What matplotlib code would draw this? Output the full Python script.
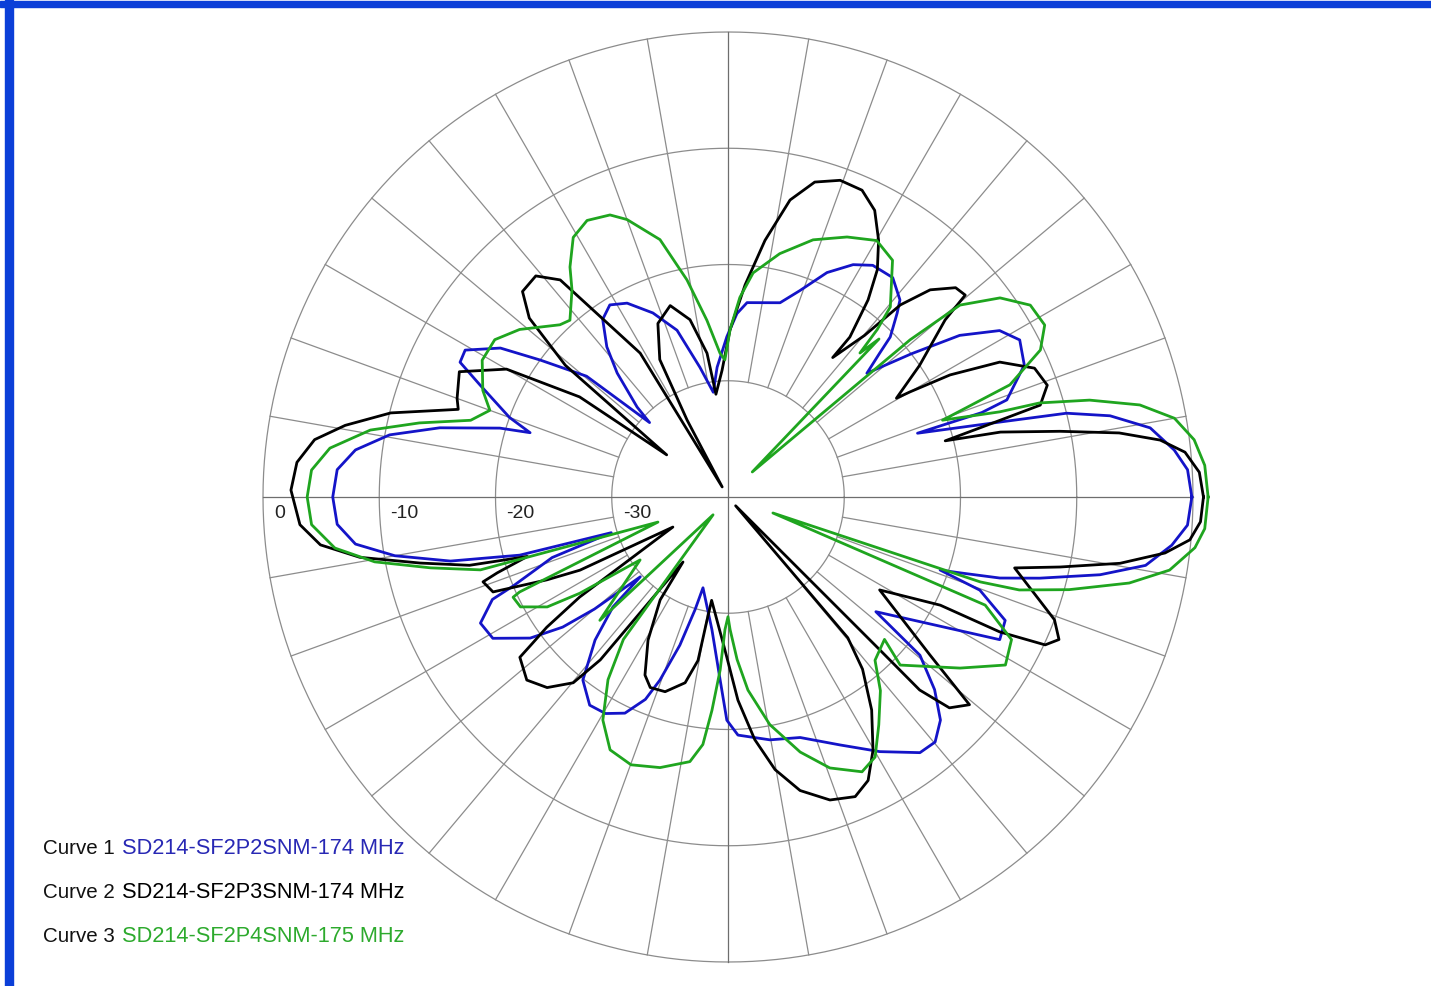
import numpy as np
import matplotlib
matplotlib.use("Agg")
import matplotlib.pyplot as plt
from matplotlib.patches import Rectangle

# Antenna patterns: angle in degrees (counterclockwise from east), level in dB
blue_ang = [0, 3.4, 6, 9.3, 12, 13.9, 15.4, 18.6, 18.4, 19.2, 24, 28.3, 31.5, 34.9, 38, 41.7,
            43.5, 44.6, 47.4, 48.9, 53.1, 58, 61.7, 66.2, 70.8, 75, 84.4, 87.2, 90.4, 94.8, 98,
            102.2, 107, 112.2, 117.5, 121.6, 125.2, 128.9, 131.8, 135.3, 136.5, 139.5, 143.9,
            146.8, 150.8, 153.3, 155.7, 160, 162, 163.2, 166.5, 169.6, 172.8, 176, 180, 184,
            187.2, 190, 193, 195.6, 197, 199, 202.5, 203.5, 207, 211, 215.5, 218.2, 220, 222.3,
            223.7, 227.1, 231.6, 236.4, 240.5, 244.5, 247.8, 249.6, 252, 253.7, 254.6, 263.1,
            267.5, 269.7, 272.4, 279.8, 286.7, 294.3, 300.8, 306.9, 310.2, 313.6, 317, 320.5,
            322.2, 332.3, 336, 339.7, 341, 341.9, 343.4, 345.4, 348.2, 350.7, 353.8, 356.5, 360]
blue_db = [-0.1, -0.4, -1.4, -3.2, -6.4, -10.0, -15.7, -22.8, -17.0, -14.6, -12.1, -11.5, -12.6,
           -15.7, -20, -24, -22, -20.4, -18.5, -17.5, -16.4, -16.5, -17.3, -18.9, -21.2, -22.7,
           -23.2, -24.2, -26.2, -28.8, -30.9, -28.6, -25, -22.9, -21.2, -20.6, -21.3, -23.4,
           -25.7, -29, -30.7, -24, -20, -16.6, -14.1, -14.2, -16.6, -20, -22.1, -19.5, -14.5,
           -10.4, -7.7, -6.3, -6, -6.3, -7.7, -10.9, -15.5, -21.4, -29.5, -24, -20, -17.9, -16.1,
           -16.4, -19.1, -21.9, -25, -29.8, -26.3, -23.2, -19.9, -18.5, -18.6, -19.4, -21.2,
           -23.2, -26.6, -29.9, -31.9, -28.5, -24.3, -20.8, -19.5, -18.8, -18.4, -16.6, -14.5,
           -12.5, -12.4, -13.5, -15.7, -18.6, -23.9, -13.6, -13.9, -16.9, -20.7, -19, -15.6,
           -12.3, -7.3, -3.6, -1.6, -0.4, -0.1]

black_ang = [0, 3, 5.6, 7.5, 9.3, 11.2, 13.4, 14.5, 15.4, 16.4, 19.3, 22.8, 26.4, 28.8, 30, 30.4,
             34.5, 39.2, 40.4, 42.6, 45.7, 48.1, 49.8, 53.1, 52.7, 54.6, 56.7, 59.6, 62.9, 66.4,
             70.5, 74.6, 78.2, 81.8, 85.4, 89.3, 92.7, 96.7, 98.3, 102.1, 106.8, 112, 116.4, 118,
             120, 121.4, 127.7, 131, 135, 138, 141, 145.5, 146, 150, 155, 160, 162, 166, 169.4,
             172.1, 175.4, 179.1, 183.7, 186.7, 189.3, 192.1, 194.8, 196.5, 198.2, 199.1, 202,
             204.6, 206.3, 208.6, 214, 215.7, 216.8, 217.6, 222.3, 226.5, 230.2, 231.9, 235.3,
             236.6, 240.8, 245, 247.8, 252.1, 257, 259.6, 260.2, 261, 268.9, 272.8, 276.3, 279.8,
             283.8, 288.6, 293, 296.3, 299.8, 304, 308, 310.4, 311, 314.8, 314.8, 316.4, 319.3,
             322, 328.5, 333, 333.6, 335, 336.7, 339.4, 346.1, 348.1, 350.4, 352.7, 354.7, 357,
             360]
black_db = [0.9, 0.6, -0.5, -2.5, -5.9, -10.9, -15.9, -20.7, -17.3, -12, -10.9, -11.4, -13.9,
            -18.2, -21.9, -23.2, -20, -15.9, -13.2, -13.4, -15.1, -17.8, -21.8, -25, -22.7, -19.2,
            -16.6, -14.4, -12.3, -11.2, -11.1, -11.9, -13.9, -17.7, -21.7, -25.6, -29.1, -31.1,
            -27.5, -24.4, -22.8, -23.9, -26.8, -32.5, -39, -25.5, -16.4, -14.8, -15, -17, -22,
            -33.6, -24.6, -18, -14.5, -15.2, -15.6, -10.1, -6.5, -4.1, -2.8, -2.4, -3.1, -4.7,
            -7.9, -12.9, -17, -22, -19.1, -17.7, -18.2, -22.9, -25.8, -34.6, -24.6, -20.8, -19,
            -17.4, -16.6, -17.4, -19.2, -22.2, -33.2, -29.4, -25.9, -23.1, -22.3, -22.4, -23.6,
            -25.7, -28.8, -31, -26.8, -22.5, -19, -16.2, -14, -12.5, -12, -12.8, -14.9, -17.9,
            -21.2, -24.1, -39, -21.4, -16.6, -13.7, -12.6, -18, -24.7, -19.5, -13.9, -9.9, -9,
            -10, -14.6, -10.8, -5.8, -2.1, -0.1, 0.7, 0.9]

green_ang = [0, 3.8, 7, 10, 12.6, 15, 16.8, 17.4, 19.7, 21.7, 25.2, 28.5, 32.4, 36.2, 39.6, 40.8,
             45.9, 46.3, 47.5, 48.3, 49.5, 55.2, 59.9, 65.4, 71.7, 78, 83.6, 86.6, 89.3, 91.3,
             93.2, 96.8, 100.7, 104.8, 110, 112.7, 117, 120.8, 124.5, 127, 131.8, 134.3, 141.2,
             146, 150.9, 156.5, 160, 163.4, 166.5, 169.4, 173, 176.3, 180, 183.8, 187.4, 190.4,
             193.4, 196.4, 199.7, 204.5, 205, 207.9, 211.3, 213, 215.6, 223.9, 230, 233.7, 236.7,
             240.7, 245, 250.1, 255.9, 261.8, 264.2, 265.7, 267.4, 268.7, 270, 270.9, 273.2,
             275.9, 280.4, 285.8, 290.6, 296, 299.5, 303.5, 308.2, 312, 317.7, 315.7, 323.6,
             328.8, 333.3, 337.2, 340.4, 341.4, 342.3, 344.8, 347.9, 350.6, 353.8, 356.2, 360]
green_db = [1.3, 1.1, 0.4, -1, -3.7, -7.8, -12, -15.5, -20.4, -13.9, -10.3, -9, -9.2, -11, -14.1,
            -19.3, -37, -21.2, -23.2, -20.7, -18.5, -15.2, -14.5, -15.4, -16.7, -18.6, -20.6,
            -22.8, -25.6, -28.2, -27.6, -24.7, -21, -17.1, -14.6, -13.7, -13.3, -14, -16, -17.7,
            -19.6, -19.3, -17, -15.8, -15.8, -17, -18.2, -16.9, -12.7, -8.7, -5.5, -4.1, -3.8,
            -4.1, -5.9, -9.1, -13.7, -17.8, -33.6, -20.3, -19.6, -19.8, -21.8, -24.8, -30.7,
            -24.7, -38, -24.8, -21.2, -18, -16, -15.5, -16, -17, -18.6, -21.6, -25.1, -28.6,
            -29.7, -28.6, -26, -23.3, -20.1, -17.2, -15.1, -13.7, -14.3, -16.5, -18.8, -21.1,
            -21.8, -19.3, -15.2, -12.1, -12.7, -16, -35.9, -17.1, -13.7, -9.6, -4.7, -1.5, 0.4,
            1.1, 1.3]

ring_levels = [-30, -20, -10, 0]
ring_labels = ["-30", "-20", "-10", "0"]
legend_names = ["SD214-SF2P2SNM-174 MHz", "SD214-SF2P3SNM-174 MHz", "SD214-SF2P4SNM-175 MHz"]
curve_colors = ["#1414c8", "#000000", "#1fa51f"]
text_colors = ["#2828b4", "#000000", "#2daa2d"]

W, H = 1431, 986
fig = plt.figure(figsize=(W / 100, H / 100), dpi=100)
fig.patch.set_facecolor("white")

# polar axes: centre at (728, 497) px, 0 dB ring at 465 px
rmin, rmax = -40, 2.5
R = 465 * (rmax - rmin) / (0 - rmin)
cx, cy = 728, 497
ax = fig.add_axes([(cx - R) / W, (H - cy - R) / H, 2 * R / W, 2 * R / H], projection="polar")
ax.set_ylim(rmin, rmax)
ax.set_xticks([])
ax.set_yticks([])
ax.grid(False)
ax.spines["polar"].set_visible(False)
ax.patch.set_alpha(0)

grid_c = "#8c8c8c"
t = np.linspace(0, 2 * np.pi, 721)
for lv in ring_levels:
    ax.plot(t, np.full_like(t, lv), color=grid_c, lw=0.9, zorder=1)
for a in range(0, 360, 10):
    start = -40 if a % 90 == 0 else -30
    c = "#6e6e6e" if a % 90 == 0 else grid_c
    ax.plot([np.deg2rad(a)] * 2, [start, 0], color=c, lw=0.9, zorder=1)

font = ["Liberation Sans", "DejaVu Sans"]

for lv, lab in zip(ring_levels, ring_labels):
    ax.annotate(lab, xy=(np.pi, lv), xytext=(11, -17), textcoords="offset pixels",
                ha="left", va="center", fontsize=14, family=font, color="#222222")

for ang, db, c in [(blue_ang, blue_db, curve_colors[0]),
                   (black_ang, black_db, curve_colors[1]),
                   (green_ang, green_db, curve_colors[2])]:
    ax.plot(np.deg2rad(ang), db, color=c, lw=2.0, zorder=3, solid_joinstyle="round")

# legend text bottom left
for i, (name, tc) in enumerate(zip(legend_names, text_colors)):
    y = 849 + i * 43.5
    fig.text(43 / W, 1 - y / H, f"Curve {i + 1}", ha="left", va="center",
             fontsize=14.8, family=font, color="#111111")
    fig.text(122 / W, 1 - y / H, name, ha="left", va="center",
             fontsize=15.7, family=font, color=tc)

# blue window frame
fig.patches.append(Rectangle((5 / W, 0), 8 / W, 1, transform=fig.transFigure,
                             color="#0b3fd8", zorder=10))
fig.patches.append(Rectangle((0, 1 - 7 / H), 1, 6 / H, transform=fig.transFigure,
                             color="#0b3fd8", zorder=10))

fig.savefig("out.png", dpi=100, facecolor="white")
